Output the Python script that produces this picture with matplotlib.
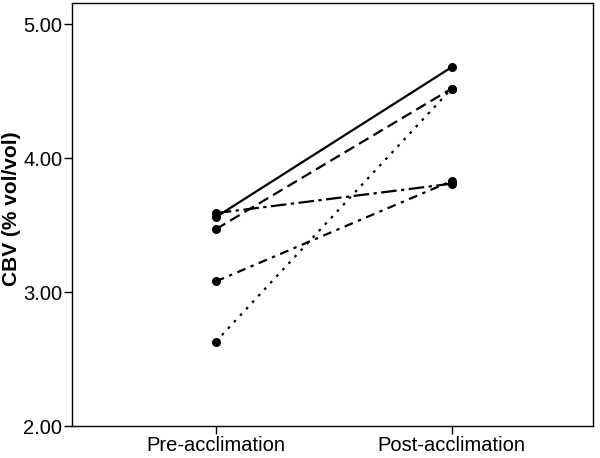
import matplotlib
matplotlib.use("Agg")
import matplotlib.pyplot as plt

# Data
conditions = ['Pre-acclimation', 'Post-acclimation']
subj_solid = [3.56, 4.68]
subj_dashed = [3.47, 4.52]
subj_longdashdot = [3.59, 3.81]
subj_dashdot = [3.08, 3.83]
subj_dotted = [2.63, 4.52]

plt.rcParams['font.family'] = ['Liberation Sans', 'DejaVu Sans']

fig = plt.figure(figsize=(6, 4.58), dpi=100)
ax = fig.add_axes([72 / 600, 32 / 458, 521 / 600, 423 / 458])

x = [0, 1]
styles = [
    (subj_solid, '-'),
    (subj_dashed, (0, (5, 2.5))),
    (subj_longdashdot, (0, (7, 2, 1.5, 2))),
    (subj_dashdot, (0, (4, 2.5, 1.5, 2.5))),
    (subj_dotted, (0, (1.2, 2.8))),
]
for vals, ls in styles:
    ax.plot(x, vals, color='black', linestyle=ls, linewidth=1.6,
            marker='o', markersize=6.5, markeredgewidth=0)

ax.set_xlim(-0.61, 1.60)
ax.set_ylim(2.0, 5.16)
ax.set_xticks(x)
ax.set_xticklabels(conditions)
ax.set_yticks([2.0, 3.0, 4.0, 5.0])
ax.set_yticklabels(['2.00', '3.00', '4.00', '5.00'])
ax.tick_params(axis='both', direction='out', length=6, width=1, labelsize=14.5, pad=1)
ax.set_ylabel('CBV (% vol/vol)', fontsize=15, fontweight='bold')
ax.yaxis.set_label_coords(-0.097, 0.514)
for sp in ax.spines.values():
    sp.set_linewidth(1)

fig.savefig('out.png', dpi=100)
